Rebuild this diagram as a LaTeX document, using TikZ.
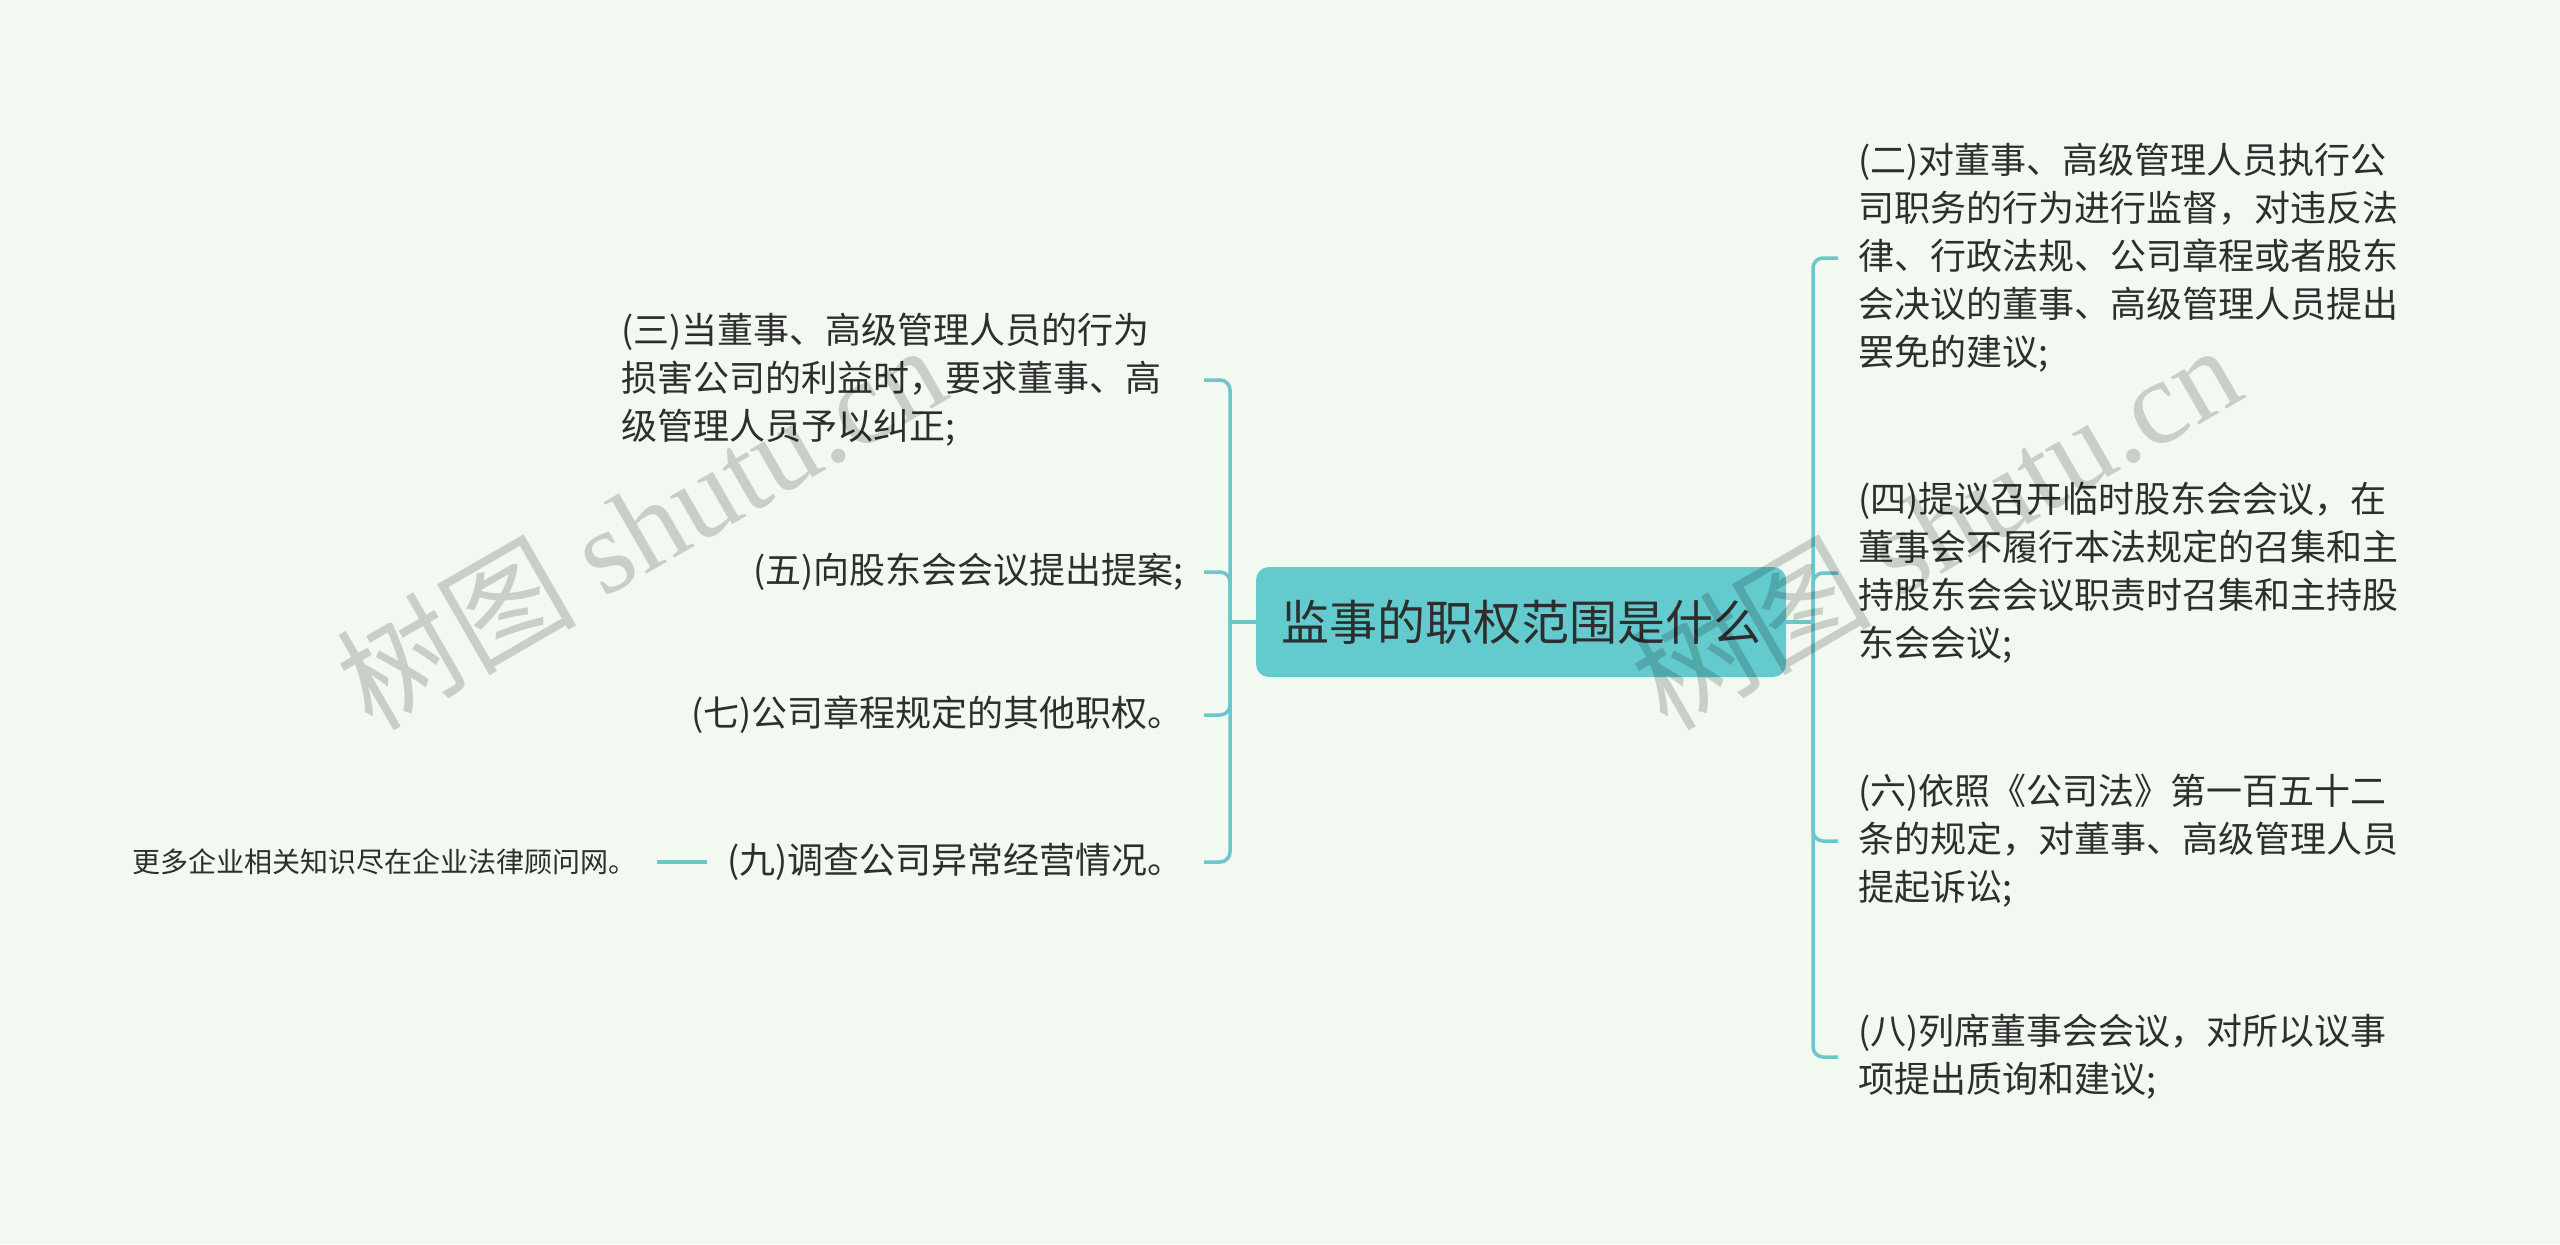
\documentclass[tikz,border=0pt]{standalone}
\usepackage{fontspec}
\setmainfont{Noto Sans CJK SC}
\newfontfamily\cjk{Noto Sans CJK SC}
\newfontfamily\wmserif{Liberation Serif}
\definecolor{bgcol}{HTML}{F1F9F0}
\definecolor{rootfill}{HTML}{63CACE}
\definecolor{linecol}{HTML}{6CC6CB}
\definecolor{txtcol}{HTML}{2E2E2E}
\begin{document}
\begin{tikzpicture}[x=0.5pt,y=-0.5pt,
  conn/.style={draw=linecol, line width=1.75pt},
  leaf/.style={font=\cjk\fontsize{18pt}{24pt}\selectfont, text=txtcol, inner xsep=10pt, inner ysep=0pt, align=left},
  morebox/.style={font=\cjk\fontsize{14pt}{18pt}\selectfont, text=txtcol, inner xsep=10pt, inner ysep=0pt},
  rootbox/.style={fill=rootfill, rounded corners=6.5pt, minimum width=265pt, minimum height=55pt, inner sep=0pt, font=\cjk\fontsize{24pt}{28pt}\selectfont, text=txtcol},
  wm/.style={text=black, text opacity=0.17, inner sep=0pt, font=\fontsize{60pt}{60pt}\selectfont}
]
\fill[bgcol] (0,0) rectangle (2560,1244);
\useasboundingbox (0,0) rectangle (2560,1244);

\node[rootbox] (root) at (1521,622) {监事的职权范围是什么};
\coordinate (jl) at (1230,622);
\coordinate (jr) at (1813,622);

% left children
\node[leaf, anchor=east, text width=281pt] (c3) at (1204,380) {(三)当董事、高级管理人员的行为\\损害公司的利益时，要求董事、高\\级管理人员予以纠正;};
\node[leaf, anchor=east] (c5) at (1204,572) {(五)向股东会会议提出提案;};
\node[leaf, anchor=east] (c7) at (1204,715) {(七)公司章程规定的其他职权。};
\node[leaf, anchor=east] (c9) at (1204,862) {(九)调查公司异常经营情况。};
\node[morebox, anchor=east] (more) at (657,862) {更多企业相关知识尽在企业法律顾问网。};

% right children
\node[leaf, anchor=west] (c2) at (1838,258) {(二)对董事、高级管理人员执行公\\司职务的行为进行监督，对违反法\\律、行政法规、公司章程或者股东\\会决议的董事、高级管理人员提出\\罢免的建议;};
\node[leaf, anchor=west] (c4) at (1838,573) {(四)提议召开临时股东会会议，在\\董事会不履行本法规定的召集和主\\持股东会会议职责时召集和主持股\\东会会议;};
\node[leaf, anchor=west] (c6) at (1838,841) {(六)依照《公司法》第一百五十二\\条的规定，对董事、高级管理人员\\提起诉讼;};
\node[leaf, anchor=west] (c8) at (1838,1057) {(八)列席董事会会议，对所以议事\\项提出质询和建议;};

% connectors
\draw[conn] (root.west) -- (jl);
\draw[conn] (root.east) -- (jr);
\foreach \c in {c3,c5,c7,c9} \draw[conn, rounded corners=5pt] (jl) |- (\c.east);
\foreach \c in {c2,c4,c6,c8} \draw[conn, rounded corners=5pt] (jr) |- (\c.west);
\draw[conn] (more.east) -- (c9.west);

% watermarks
\node[wm, rotate=30] (wm1) at (640,525) {{\cjk 树图} {\wmserif shutu.cn}};
\node[wm, rotate=30] (wm2) at (1935,525) {{\cjk 树图} {\wmserif shutu.cn}};
\end{tikzpicture}
\end{document}
